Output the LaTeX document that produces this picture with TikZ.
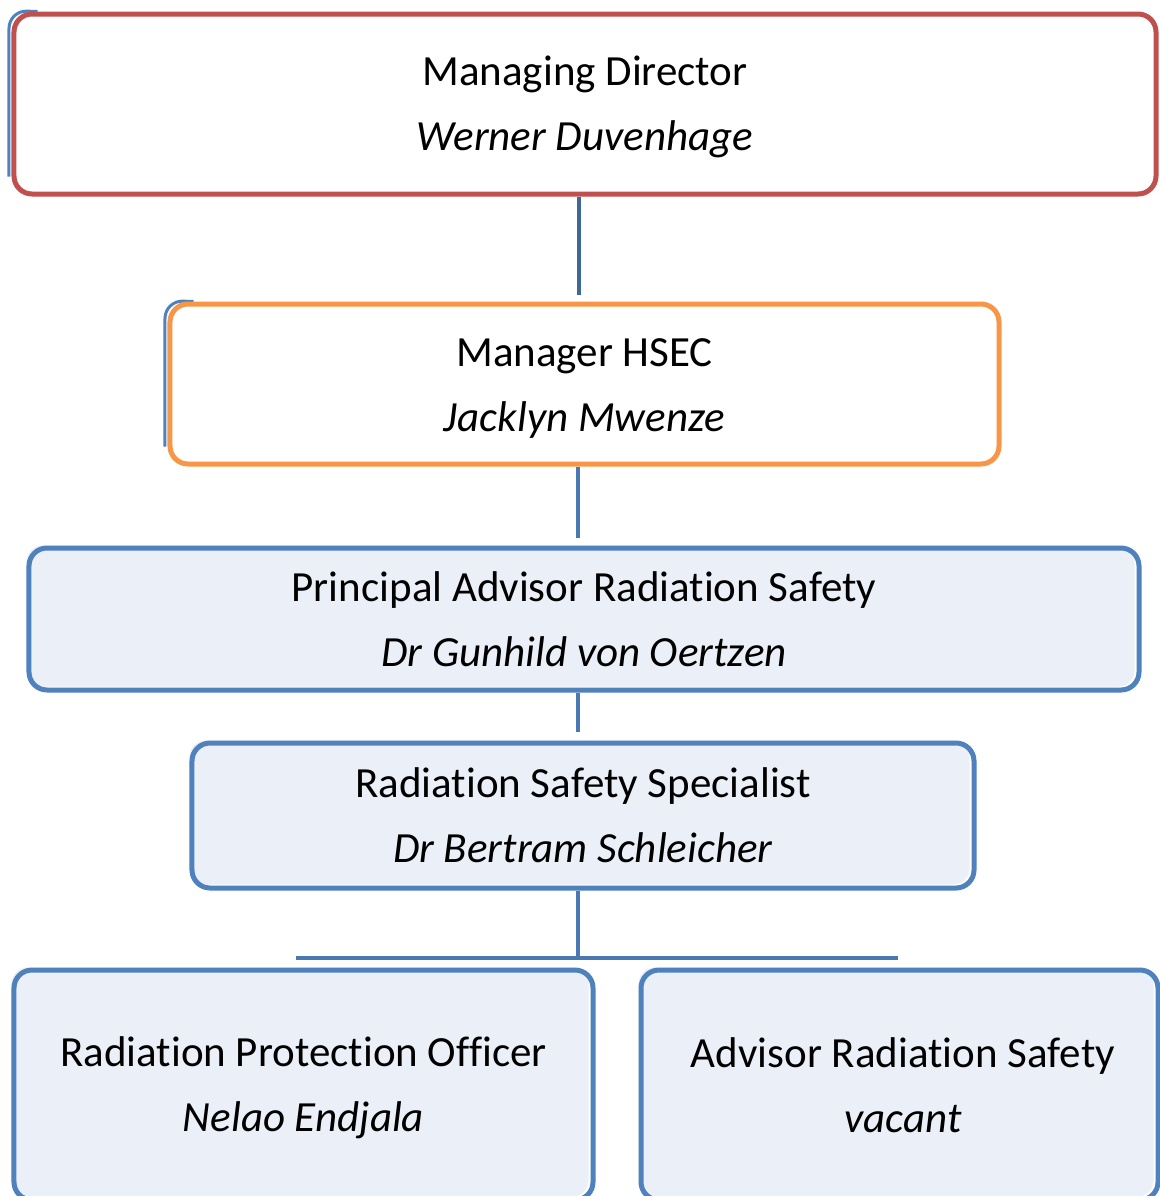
\documentclass[tikz,border=0pt]{standalone}
\usepackage{fontspec}
\setmainfont[Ligatures=NoCommon]{Carlito}
\usetikzlibrary{backgrounds}
\definecolor{mdred}{HTML}{C0504D}
\definecolor{hsecor}{HTML}{F79646}
\definecolor{bxblue}{HTML}{4F81BD}
\definecolor{bxfill}{HTML}{EBF0F8}
\definecolor{lnA}{HTML}{3F6797}
\definecolor{lnB}{HTML}{4A79B2}
\tikzset{
  box/.style={rectangle, rounded corners=18bp, line width=5bp, align=center,
    font=\fontsize{43bp}{65bp}\selectfont, inner sep=0pt},
  bluebox/.style={box, draw=bxblue},
  shadowline/.style={draw=bxblue, line width=3bp, rounded corners=18bp},
  conn/.style={line width=4bp, line cap=butt},
}
\newcommand{\dn}{\rule{0pt}{36bp}}
\begin{document}
\begin{tikzpicture}[x=1bp, y=-1bp]
\useasboundingbox (0,0) rectangle (1160,1196);

% boxes
\node[box, draw=mdred, fill=white, minimum width=1142bp, minimum height=180bp] (md) at (585,104)
  {\dn Managing Director\\\textit{Werner Duvenhage}};
\node[box, draw=hsecor, fill=white, minimum width=829bp, minimum height=160bp] (hsec) at (584.5,384)
  {\dn Manager HSEC\\\textit{Jacklyn Mwenze}};
\node[bluebox, minimum width=1110bp, minimum height=142bp] (pars) at (584,619)
  {Principal Advisor Radiation Safety\\\textit{Dr Gunhild von Oertzen}};
\node[bluebox, minimum width=782bp, minimum height=145bp] (rss) at (583,815.5)
  {Radiation Safety Specialist\\\textit{Dr Bertram Schleicher}};
\node[bluebox, minimum width=579bp, minimum height=230bp] (rpo) at (303.5,1085)
  {\dn Radiation Protection Officer\\\textit{Nelao Endjala}};
\node[bluebox, minimum width=517bp, minimum height=230bp] (ars) at (899.5,1085)
  {\hspace*{7bp}Advisor Radiation Safety\\\hspace*{7bp}\textit{vacant}};

% backgrounds: blue edge peeking behind top boxes, light fills of blue boxes
\begin{pgfonlayer}{background}
  \draw[shadowline] ([shift={(-2.5,-20)}]md.south west) -- ([shift={(-2.5,-1)}]md.north west) -- ([shift={(26,0)}]md.north west);
  \draw[shadowline] ([shift={(-2.5,-20)}]hsec.south west) -- ([shift={(-2.5,-1)}]hsec.north west) -- ([shift={(26,0)}]hsec.north west);
  \foreach \b in {pars,rss,rpo,ars}{
    \fill[white, rounded corners=18bp] (\b.north west) rectangle (\b.south east);
    \fill[bxfill, rounded corners=16bp] (\b.north west) rectangle ([shift={(-7,-6)}]\b.south east);
  }
\end{pgfonlayer}

% connectors
\coordinate (c1) at (579,295);
\coordinate (c2) at (578,538);
\coordinate (c3) at (578,732);
\coordinate (c4) at (578,958);
\coordinate (hl) at (296,958);
\coordinate (hr) at (898,958);
\draw[conn, draw=lnA] (c1 |- md.south) -- (c1);
\draw[conn, draw=lnB] (c2 |- hsec.south) -- (c2);
\draw[conn, draw=lnB] (c3 |- pars.south) -- (c3);
\draw[conn, draw=lnB] (c4 |- rss.south) -- (c4);
\draw[conn, draw=lnB] (hl) -- (hr);
\end{tikzpicture}
\end{document}
